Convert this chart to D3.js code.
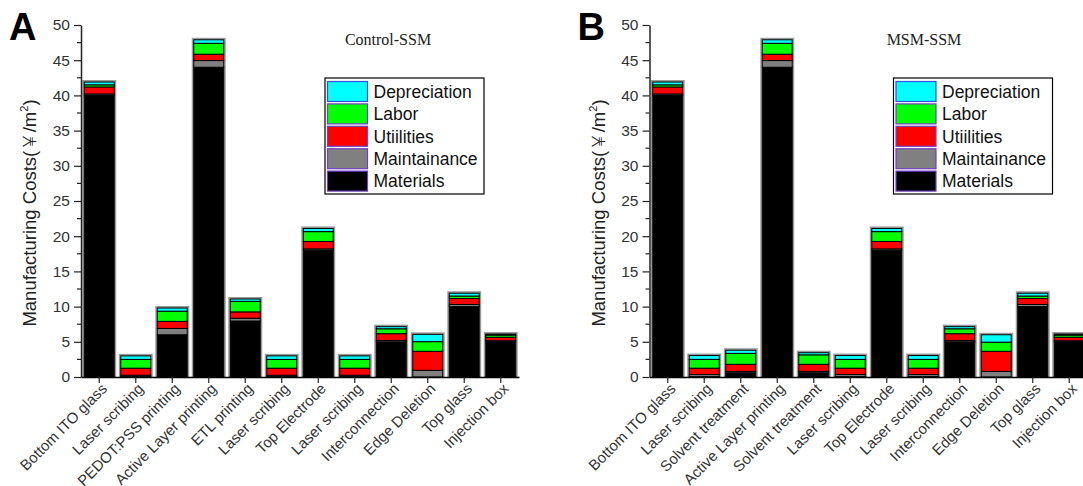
<!DOCTYPE html>
<html>
<head>
<meta charset="utf-8">
<script src="https://cdn.jsdelivr.net/npm/d3@7"></script>
<style>
  html, body { margin: 0; padding: 0; background: #fff; }
  svg { display: block; font-family: "Liberation Sans", Arial, sans-serif; }
</style>
</head>
<body>
<svg id="chart" width="1083" height="486"></svg>
<script>
// Cost categories (stack order, bottom to top)
const seriesKeys = ["Materials", "Maintainance", "Utiilities", "Labor", "Depreciation"];
const seriesColors = ["#000000", "#808080", "#ff0000", "#00ff00", "#00ffff"];
const legendOrder = ["Depreciation", "Labor", "Utiilities", "Maintainance", "Materials"];

const yTicks = [0, 5, 10, 15, 20, 25, 30, 35, 40, 45, 50];

// Panel A: Control-SSM process steps
const stepsA = ["Bottom ITO glass", "Laser scribing", "PEDOT:PSS printing", "Active Layer printing",
  "ETL printing", "Laser scribing", "Top Electrode", "Laser scribing", "Interconnection",
  "Edge Deletion", "Top glass", "Injection box"];
const materialsA    = [40.0, 0.05, 6.0, 44.0, 7.95, 0.05, 18.0, 0.05, 5.0, 0.0, 10.0, 5.1];
const maintenanceA  = [0.2, 0.2, 0.9, 0.95, 0.4, 0.2, 0.2, 0.2, 0.2, 0.95, 0.3, 0.05];
const utilitiesA    = [1.0, 1.0, 1.0, 0.9, 0.9, 1.0, 1.05, 1.0, 0.95, 2.7, 0.85, 0.5];
const laborA        = [0.3, 1.25, 1.45, 1.55, 1.5, 1.25, 1.4, 1.25, 0.7, 1.37, 0.35, 0.3];
const depreciationA = [0.4, 0.5, 0.45, 0.5, 0.33, 0.5, 0.45, 0.5, 0.3, 1.04, 0.4, 0.15];

// Panel B: MSM-SSM process steps
const stepsB = ["Bottom ITO glass", "Laser scribing", "Solvent treatment", "Active Layer printing",
  "Solvent treatment", "Laser scribing", "Top Electrode", "Laser scribing", "Interconnection",
  "Edge Deletion", "Top glass", "Injection box"];
const materialsB    = [40.0, 0.05, 0.6, 44.0, 0.6, 0.05, 18.0, 0.05, 5.0, 0.0, 10.0, 5.1];
const maintenanceB  = [0.2, 0.3, 0.2, 0.95, 0.2, 0.3, 0.2, 0.3, 0.2, 0.8, 0.3, 0.05];
const utilitiesB    = [1.0, 0.9, 1.0, 0.9, 1.0, 0.9, 1.05, 0.9, 0.95, 2.85, 0.85, 0.5];
const laborB        = [0.3, 1.25, 1.55, 1.55, 1.35, 1.25, 1.4, 1.25, 0.7, 1.3, 0.35, 0.3];
const depreciationB = [0.4, 0.55, 0.45, 0.5, 0.3, 0.55, 0.45, 0.55, 0.3, 1.05, 0.4, 0.15];

const svg = d3.select("#chart");
const SANS = "'Liberation Sans', Arial, sans-serif";
const SERIF = "'Liberation Serif', 'Times New Roman', serif";

function drawPanel(cfg) {
  const { left, letter, title, titleX, steps, cols } = cfg;
  const top = 25, bottom = 377, width = 438;

  const rows = steps.map((s, i) => {
    const r = { idx: i, step: s };
    seriesKeys.forEach((k, j) => { r[k] = cols[j][i]; });
    return r;
  });

  const x = d3.scaleBand()
    .domain(rows.map(r => r.idx))
    .range([left, left + width])
    .paddingInner(0.18)
    .paddingOuter(0.09);
  const y = d3.scaleLinear().domain([0, 50]).range([bottom, top]);

  const stacked = d3.stack().keys(seriesKeys)(rows);
  const g = svg.append("g");

  // outer soft edge of each bar
  g.append("g").selectAll("rect").data(rows).join("rect")
    .attr("x", d => x(d.idx) - 1)
    .attr("width", x.bandwidth() + 2)
    .attr("y", d => y(d3.sum(seriesKeys, k => d[k])) - 1)
    .attr("height", d => y(0) - y(d3.sum(seriesKeys, k => d[k])) + 1)
    .attr("fill", "none")
    .attr("stroke", "#9a9a9a")
    .attr("stroke-width", 2);

  // stacked segments
  g.append("g").selectAll("g").data(stacked).join("g")
    .attr("fill", (d, i) => seriesColors[i])
    .selectAll("rect").data(d => d).join("rect")
    .attr("x", d => x(d.data.idx))
    .attr("width", x.bandwidth())
    .attr("y", d => y(d[1]))
    .attr("height", d => Math.max(0, y(d[0]) - y(d[1])))
    .attr("stroke", "#000")
    .attr("stroke-width", 1);

  // y axis with major and minor ticks
  const yAxis = g.append("g").attr("transform", `translate(${left},0)`)
    .call(d3.axisLeft(y).tickValues(yTicks).tickSize(7).tickSizeOuter(0).tickPadding(4));
  yAxis.select(".domain").attr("stroke", "#222").attr("stroke-width", 1.5);
  yAxis.selectAll(".tick line").attr("stroke", "#222").attr("stroke-width", 1.2);
  yAxis.selectAll(".tick text").attr("font-size", 15.5).attr("fill", "#333")
    .attr("font-family", SANS);
  const minor = d3.range(2.5, 50, 5);
  g.append("g").selectAll("line").data(minor).join("line")
    .attr("x1", left - 4).attr("x2", left)
    .attr("y1", d => y(d)).attr("y2", d => y(d))
    .attr("stroke", "#222").attr("stroke-width", 1.2);

  // x axis
  const xAxis = g.append("g").attr("transform", `translate(0,${bottom})`)
    .call(d3.axisBottom(x).tickSize(6).tickSizeOuter(0).tickFormat(""));
  xAxis.select(".domain").attr("stroke", "#000").attr("stroke-width", 1.5);
  xAxis.selectAll(".tick line").attr("stroke", "#222").attr("stroke-width", 1.2);

  g.append("g").selectAll("text").data(rows).join("text")
    .attr("transform", d => `translate(${x(d.idx) + x.bandwidth() / 2 + 5},${bottom + 9}) rotate(-45)`)
    .attr("text-anchor", "end")
    .attr("dy", "0.35em")
    .attr("font-family", SANS)
    .attr("font-size", 15)
    .attr("fill", "#333")
    .text(d => d.step);

  // y axis title
  const yt = g.append("text")
    .attr("transform", `translate(${left - 45},${(top + bottom) / 2 + 12}) rotate(-90)`)
    .attr("text-anchor", "middle")
    .attr("font-family", SANS)
    .attr("font-size", 18.5)
    .attr("fill", "#222");
  yt.append("tspan").text("Manufacturing Costs(");
  yt.append("tspan").attr("font-family", "'Noto Sans CJK SC', sans-serif").attr("font-weight", 300).text("￥");
  yt.append("tspan").text("/m");
  yt.append("tspan").attr("font-size", 11).attr("dy", -8).text("2");
  yt.append("tspan").attr("dy", 8).text(")");

  // panel letter
  g.append("text")
    .attr("x", left - 72).attr("y", 40)
    .attr("font-family", SANS)
    .attr("font-size", 38).attr("font-weight", "bold").attr("fill", "#000")
    .text(letter);

  // panel title
  g.append("text")
    .attr("x", titleX).attr("y", 45)
    .attr("text-anchor", "middle")
    .style("font-family", SERIF)
    .attr("font-size", 16).attr("fill", "#222")
    .text(title);

  // legend
  const lx = left + 244, ly = 78;
  const lg = g.append("g");
  lg.append("rect").attr("x", lx).attr("y", ly).attr("width", 159).attr("height", 116)
    .attr("fill", "#fff").attr("stroke", "#000").attr("stroke-width", 1.2);
  const items = lg.selectAll("g.item").data(legendOrder).join("g")
    .attr("transform", (d, i) => `translate(${lx + 2.5},${ly + 3.5 + i * 22.4})`);
  items.append("rect")
    .attr("width", 40).attr("height", 20)
    .attr("fill", d => seriesColors[seriesKeys.indexOf(d)])
    .attr("stroke", d => d === "Depreciation" ? "#3050e0" : "#7040c0")
    .attr("stroke-width", 1.2);
  items.append("text")
    .attr("x", 46).attr("y", 10).attr("dy", "0.36em")
    .attr("font-family", SANS)
    .attr("font-size", 17.5).attr("fill", "#111")
    .text(d => d);
}

drawPanel({
  left: 81, letter: "A", title: "Control-SSM", titleX: 388, steps: stepsA,
  cols: [materialsA, maintenanceA, utilitiesA, laborA, depreciationA]
});
drawPanel({
  left: 649.5, letter: "B", title: "MSM-SSM", titleX: 924, steps: stepsB,
  cols: [materialsB, maintenanceB, utilitiesB, laborB, depreciationB]
});
</script>
</body>
</html>
